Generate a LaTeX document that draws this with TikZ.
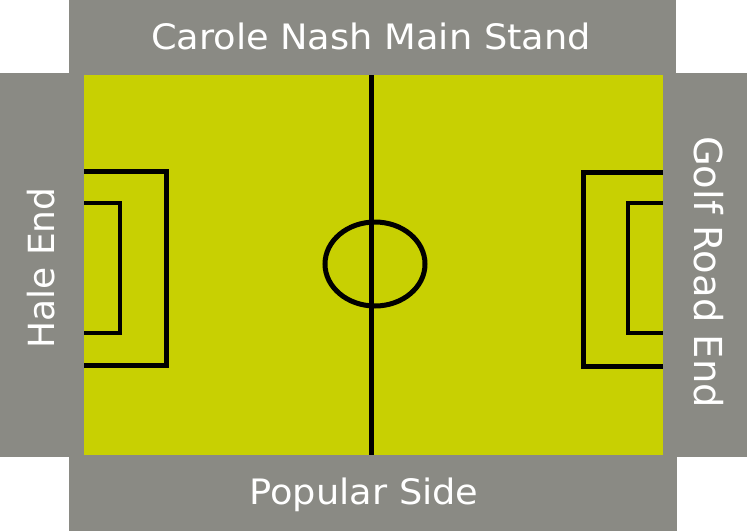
\documentclass[tikz,border=0pt]{standalone}
\usepackage{fontspec}
\setmainfont{DejaVu Sans}
\definecolor{standgray}{RGB}{138,138,132}
\definecolor{pitchgreen}{RGB}{200,208,2}
\tikzset{
  standlabel/.style={text=white, font=\fontsize{35}{42}\selectfont, inner sep=0pt, xscale=1.05},
  endlabel/.style={text=white, inner sep=0pt},
  thickline/.style={line width=5pt, black},
  thinline/.style={line width=3.5pt, black},
}
\begin{document}
\begin{tikzpicture}[x=1pt,y=-1pt]
\useasboundingbox (0,0) rectangle (747,531);
% stands
\fill[standgray] (0,0) rectangle (747,531);
\fill[white] (0,0) rectangle (69,73);
\fill[white] (676,0) rectangle (747,73);
\fill[white] (0,457) rectangle (69,531);
\fill[white] (677,457) rectangle (747,531);
% pitch
\fill[pitchgreen] (84,75) rectangle (663,455);
% halfway line and centre circle
\draw[thickline] (371,75) -- (371,455);
\draw[thickline] (375,264) ellipse [x radius=50, y radius=42];
% left penalty box and goal box
\draw[thickline] (84,171) -- (166,171) -- (166,365) -- (84,365);
\draw[thinline] (84,203) -- (120,203) -- (120,333) -- (84,333);
% right penalty box and goal box
\draw[thickline] (663,172) -- (583,172) -- (583,366) -- (663,366);
\draw[thinline] (663,203) -- (628,203) -- (628,333) -- (663,333);
% labels
\node[standlabel] (main) at (371,36) {Carole Nash Main Stand};
\node[standlabel] (popular) at (364,495) {Popular Side};
\node[endlabel, font=\fontsize{36}{42}\selectfont, rotate=90] (hale) at (41,268) {Hale End};
\node[endlabel, font=\fontsize{38.5}{44}\selectfont, rotate=-90] (golf) at (709,272) {Golf Road End};
\end{tikzpicture}
\end{document}
